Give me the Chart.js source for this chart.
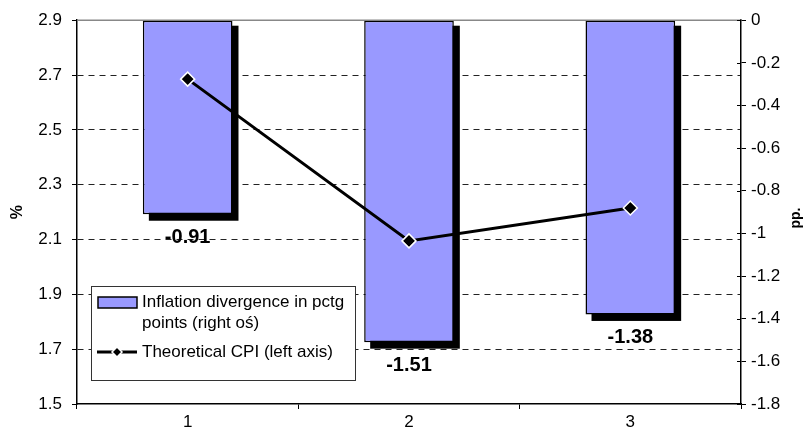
<!DOCTYPE html>
<html>
<head>
<meta charset="utf-8">
<script src="https://cdn.jsdelivr.net/npm/chart.js@4/dist/chart.umd.min.js"></script>
<style>
  html, body { margin: 0; padding: 0; background: #fff; }
  canvas { display: block; }
</style>
</head>
<body>
<canvas id="chart" width="805" height="438"></canvas>
<script>
// Categories and series
const categories = ['1', '2', '3'];
const divergence = [-0.91, -1.51, -1.38];        // pp., right axis
const theoreticalCpi = [2.685, 2.095, 2.215];    // %, left axis
const seriesNames = ['Inflation divergence in pctg\npoints (right oś)', 'Theoretical CPI (left axis)'];

// Axis tick values
const leftTicks = [1.5, 1.7, 1.9, 2.1, 2.3, 2.5, 2.7, 2.9];
const rightTicks = [-1.8, -1.6, -1.4, -1.2, -1, -0.8, -0.6, -0.4, -0.2, 0];
const leftTitle = '%';
const rightTitle = 'pp.';

const FONT = 'Liberation Sans, Arial, sans-serif';
const BAR_FILL = '#9999FF';

const fixTicks = values => scale => { scale.ticks = values.map(v => ({ value: v })); };
const fmt = v => String(+Number(v).toFixed(1));

// Solid black drop shadow behind each bar, offset down and to the right
const barShadow = {
  id: 'barShadow',
  beforeDatasetDraw(chart, args) {
    if (args.meta.type !== 'bar') return;
    const ctx = chart.ctx;
    ctx.save();
    ctx.fillStyle = '#000';
    args.meta.data.forEach(el => {
      const { x, y, base, width } = el.getProps(['x', 'y', 'base', 'width'], true);
      const top = Math.min(y, base), bottom = Math.max(y, base);
      ctx.fillRect(x - width / 2 + 6, top + 5, width, bottom - top + 1.5);
    });
    ctx.restore();
  }
};

// Frame details: grey top edge, right-axis ticks crossing the axis, axis titles
const frame = {
  id: 'frame',
  beforeDatasetsDraw(chart) {
    const { ctx, chartArea } = chart;
    ctx.save();
    ctx.strokeStyle = '#888';
    ctx.lineWidth = 1.5;
    ctx.beginPath();
    ctx.moveTo(chartArea.left, chartArea.top);
    ctx.lineTo(chartArea.right, chartArea.top);
    ctx.stroke();
    ctx.restore();
  },
  afterDraw(chart) {
    const { ctx, chartArea } = chart;
    const y1 = chart.scales.y1;
    ctx.save();
    ctx.strokeStyle = '#000';
    ctx.lineWidth = 1;
    y1.ticks.forEach(t => {
      const py = Math.round(y1.getPixelForValue(t.value)) + 0.5;
      ctx.beginPath();
      ctx.moveTo(y1.left - 4, py);
      ctx.lineTo(y1.left, py);
      ctx.stroke();
    });
    ctx.fillStyle = '#000';
    ctx.font = 'bold 16px ' + FONT;
    ctx.textAlign = 'center';
    ctx.textBaseline = 'middle';
    ctx.translate(18, (chartArea.top + chartArea.bottom) / 2);
    ctx.rotate(-Math.PI / 2);
    ctx.fillText(leftTitle, 0, 0);
    ctx.restore();
    ctx.save();
    ctx.fillStyle = '#000';
    ctx.font = 'bold 14px ' + FONT;
    ctx.textAlign = 'center';
    ctx.textBaseline = 'middle';
    ctx.translate(796, (chartArea.top + chartArea.bottom) / 2 + 6);
    ctx.rotate(-Math.PI / 2);
    ctx.fillText(rightTitle, 0, 0);
    ctx.restore();
  }
};

// Value labels under each bar
const barLabels = {
  id: 'barLabels',
  afterDatasetsDraw(chart) {
    const { ctx } = chart;
    chart.data.datasets.forEach((ds, di) => {
      const meta = chart.getDatasetMeta(di);
      if (meta.type !== 'bar') return;
      meta.data.forEach((el, i) => {
        ctx.save();
        ctx.fillStyle = '#000';
        ctx.font = 'bold 20px ' + FONT;
        ctx.textAlign = 'center';
        ctx.textBaseline = 'middle';
        ctx.fillText(ds.data[i].toFixed(2), el.x, el.y + 23);
        ctx.restore();
      });
    });
  }
};

// Boxed legend in the lower left of the plot
const boxLegend = {
  id: 'boxLegend',
  afterDatasetsDraw(chart) {
    const { ctx, chartArea } = chart;
    const x0 = chartArea.left + 14, y0 = chartArea.bottom - 118;
    const w = 264, h = 94;
    ctx.save();
    ctx.fillStyle = '#fff';
    ctx.fillRect(x0, y0, w, h);
    ctx.strokeStyle = '#333';
    ctx.lineWidth = 1;
    ctx.strokeRect(x0 + 0.5, y0 + 0.5, w, h);

    // bar swatch
    ctx.fillStyle = BAR_FILL;
    ctx.fillRect(x0 + 7, y0 + 11, 39, 11);
    ctx.strokeStyle = '#000';
    ctx.lineWidth = 1.5;
    ctx.strokeRect(x0 + 7, y0 + 11, 39, 11);

    // line swatch with marker
    const ly = y0 + 66;
    ctx.lineWidth = 3;
    ctx.beginPath();
    ctx.moveTo(x0 + 6, ly);
    ctx.lineTo(x0 + 46, ly);
    ctx.stroke();
    ctx.fillStyle = '#000';
    ctx.strokeStyle = '#fff';
    ctx.lineWidth = 1.5;
    ctx.beginPath();
    const cx = x0 + 26, r = 5;
    ctx.moveTo(cx, ly - r); ctx.lineTo(cx + r, ly); ctx.lineTo(cx, ly + r); ctx.lineTo(cx - r, ly); ctx.closePath();
    ctx.fill(); ctx.stroke();

    // texts
    ctx.fillStyle = '#000';
    ctx.font = '17px ' + FONT;
    ctx.textAlign = 'left';
    ctx.textBaseline = 'middle';
    const lines = seriesNames[0].split('\n');
    ctx.fillText(lines[0], x0 + 51, y0 + 16);
    ctx.fillText(lines[1], x0 + 51, y0 + 37);
    ctx.fillText(seriesNames[1], x0 + 51, ly);
    ctx.restore();
  }
};

new Chart(document.getElementById('chart'), {
  data: {
    labels: categories,
    datasets: [
      {
        type: 'line',
        label: seriesNames[1],
        data: theoreticalCpi,
        yAxisID: 'y',
        order: 0,
        borderColor: '#000',
        borderWidth: 3,
        pointStyle: 'rectRot',
        pointRadius: 7,
        pointBackgroundColor: '#000',
        pointBorderColor: '#fff',
        pointBorderWidth: 1.5,
        tension: 0
      },
      {
        type: 'bar',
        label: seriesNames[0],
        data: divergence,
        yAxisID: 'y1',
        order: 1,
        backgroundColor: BAR_FILL,
        borderColor: '#000',
        borderWidth: 1.5,
        borderSkipped: false,
        barPercentage: 0.405,
        categoryPercentage: 1
      }
    ]
  },
  options: {
    responsive: false,
    animation: false,
    devicePixelRatio: 1,
    layout: { padding: { top: 19, left: 0, right: 0, bottom: 0 } },
    plugins: { legend: { display: false }, tooltip: { enabled: false } },
    scales: {
      x: {
        type: 'category',
        offset: true,
        grid: { offset: true, drawOnChartArea: false, tickLength: 5, tickColor: '#000', tickWidth: 1 },
        border: { color: '#000', width: 1.5 },
        ticks: { color: '#000', font: { family: FONT, size: 17 }, padding: 3 },
        afterFit: s => { s.height = 34; }
      },
      y: {
        position: 'left',
        min: 1.5,
        max: 2.9,
        afterBuildTicks: fixTicks(leftTicks),
        grid: {
          color: c => (c.tick && (c.tick.value === 1.5 || c.tick.value === 2.9)) ? 'rgba(0,0,0,0)' : '#222',
          lineWidth: 1,
          tickLength: 5,
          tickColor: '#000',
          tickWidth: 1
        },
        border: { color: '#000', width: 1.5, dash: [6, 5] },
        ticks: { color: '#000', font: { family: FONT, size: 17 }, padding: 10, callback: v => Number(v).toFixed(1) },
        afterFit: s => { s.width = 77; }
      },
      y1: {
        position: 'right',
        min: -1.8,
        max: 0,
        afterBuildTicks: fixTicks(rightTicks),
        grid: { drawOnChartArea: false, tickLength: 5, tickColor: '#000', tickWidth: 1 },
        border: { color: '#000', width: 1.5 },
        ticks: { color: '#000', font: { family: FONT, size: 17 }, padding: 5, callback: fmt },
        afterFit: s => { s.width = 64; }
      }
    }
  },
  plugins: [barShadow, frame, barLabels, boxLegend]
});
</script>
</body>
</html>
